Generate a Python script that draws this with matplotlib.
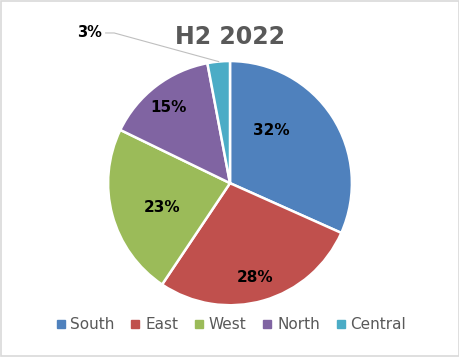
import matplotlib
matplotlib.use("Agg")
import matplotlib.pyplot as plt
from matplotlib.patches import Rectangle
from matplotlib.lines import Line2D
import numpy as np

categories = ["South", "East", "West", "North", "Central"]
values = [32, 28, 23, 15, 3]
title = "H2 2022"

colors = ["#4F81BD", "#C0504D", "#9BBB59", "#8064A2", "#4BACC6"]
# label placement (radius fraction, angle deg) chosen to mimic reference layout
label_pos = [(0.55, 52), (0.80, -75), (0.59, 200), (0.80, 129), None]

fig = plt.figure(figsize=(4.6, 3.57), dpi=100)
fig.patches.append(Rectangle((0.002, 0.003), 0.996, 0.994, transform=fig.transFigure,
                             fill=False, edgecolor="#D9D9D9", linewidth=1.2))

ax = fig.add_axes([0.5 - 0.265, 0.487 - 0.342, 0.53, 0.684])
wedges, _ = ax.pie(values, colors=colors, startangle=90, counterclock=False,
                   wedgeprops=dict(edgecolor="white", linewidth=1.8))
ax.set_xlim(-1, 1)
ax.set_ylim(-1, 1)
ax.set_aspect("auto")
ax.axis("off")

total = sum(values)
for v, pos in zip(values, label_pos):
    lbl = f"{v / total * 100:.0f}%"
    if pos is None:
        continue
    r, a = pos
    ax.text(r * np.cos(np.radians(a)), r * np.sin(np.radians(a)), lbl,
            ha="center", va="center", fontsize=11, fontweight="bold", color="black")

# Central label outside with leader line
w = wedges[-1]
mid = np.radians((w.theta1 + w.theta2) / 2)
ex, ey = np.cos(mid), np.sin(mid)
lx, ly = -1.02, 1.23
ax.plot([lx, lx + 0.07, ex * 1.0], [ly, ly, ey * 1.0], color="#BFBFBF", linewidth=0.8,
        clip_on=False)
ax.text(lx - 0.03, ly, f"{values[-1] / total * 100:.0f}%", ha="right", va="center",
        fontsize=10.5, fontweight="bold", color="black", clip_on=False)

fig.text(0.5, 0.897, title, ha="center", va="center", fontsize=17, fontweight="bold",
         color="#595959")

handles = [Line2D([0], [0], marker="s", linestyle="none", markersize=5.5,
                  markerfacecolor=c, markeredgecolor=c) for c in colors]
fig.legend(handles, categories, loc="center", bbox_to_anchor=(0.5, 0.09), ncol=5,
           frameon=False, fontsize=11, labelcolor="#595959", handletextpad=0.2,
           columnspacing=0.9, handlelength=0.9)

fig.savefig("out.png", dpi=100)
